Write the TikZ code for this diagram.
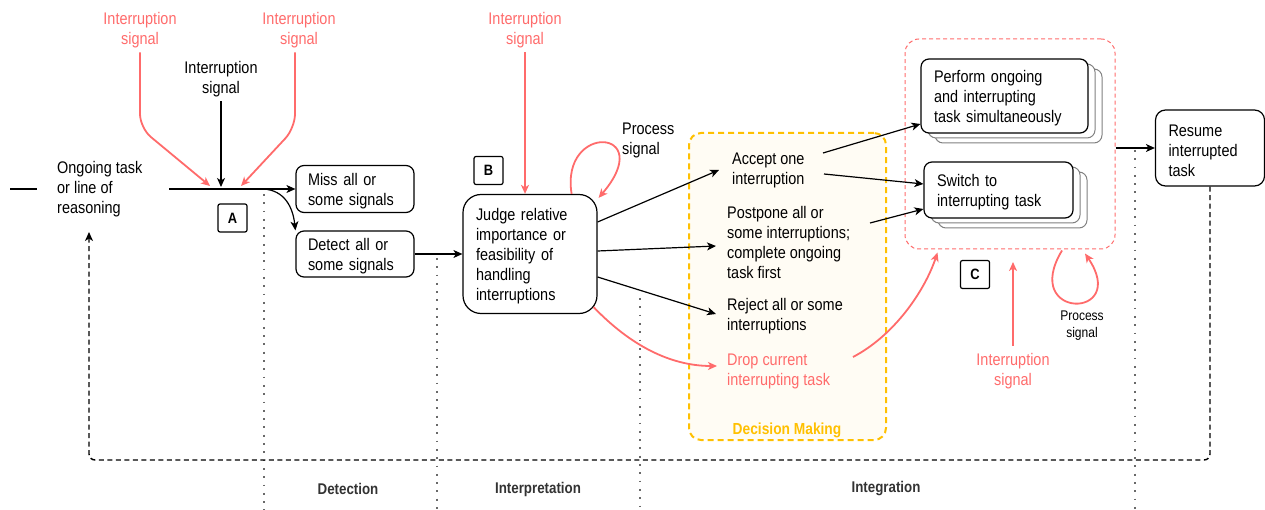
\documentclass[tikz,border=0pt]{standalone}
\usepackage{fontspec}
\setmainfont{Liberation Sans}[FakeStretch=0.86]
\usetikzlibrary{arrows.meta,calc,shadows}
\definecolor{sigred}{RGB}{255,107,107}
\definecolor{decgold}{RGB}{255,192,0}
\definecolor{deccream}{RGB}{255,252,244}
\definecolor{phase}{RGB}{51,51,51}
\definecolor{guidegray}{RGB}{105,105,105}
% extra room above the first line pushes multi-line labels a little lower
\newcommand\topstrut{\rule{0pt}{17pt}}
\newcommand\smallstrut{\rule{0pt}{14.5pt}}

\begin{document}
\begin{tikzpicture}[x=1pt,y=-1pt,
  every node/.style={font=\fontsize{16.8}{20}\selectfont},
  tip/.style={-{Stealth[length=9pt,width=8pt,inset=2.5pt]}},
  flow/.style={tip, line width=1.2pt, black},
  sig/.style={tip, line width=1.8pt, sigred},
  box/.style={draw, line width=1.2pt, rounded corners=8pt, fill=white, align=left, inner ysep=0pt},
  stacked/.style={box, double copy shadow={shadow xshift=7pt, shadow yshift=-5pt, draw=gray, fill=white, line width=1pt}},
  tag/.style={draw, line width=1.2pt, rounded corners=2pt, fill=white, minimum width=29pt, minimum height=28pt, inner sep=0pt, font=\fontsize{15}{18}\selectfont\bfseries},
  plain/.style={align=left, inner sep=0pt, anchor=west},
  siglabel/.style={align=center, inner sep=0pt, text=sigred},
  guide/.style={line width=1.8pt, guidegray, dash pattern=on 1.8pt off 6.5pt},
  phaselabel/.style={font=\fontsize{15.5}{18}\selectfont\bfseries, text=phase}
]
\useasboundingbox (0,0) rectangle (1265,510);

% phase separators
\draw[guide] (264,194) -- (264,510);
\draw[guide] (437,258) -- (437,510);
\draw[guide] (640,298) -- (640,510);
\draw[guide] (1135,150) -- (1135,510);

% decision making area
\node[draw=decgold, fill=deccream, dash pattern=on 6pt off 4pt, line width=2pt,
      rounded corners=12pt, minimum width=197pt, minimum height=307pt, inner sep=0pt]
      (decision) at (787.5,286.5) {};
\node[font=\fontsize{16}{20}\selectfont\bfseries, text=decgold] (decTitle) at (787,430) {Decision Making};

% integration group
\node[draw=sigred, dash pattern=on 4pt off 3pt, line width=1pt, rounded corners=14pt,
      minimum width=210pt, minimum height=210pt, inner sep=0pt] (group) at (1010,144) {};

% ongoing task
\coordinate (leadA) at (10,189);
\coordinate (leadB) at (37,189);
\draw[line width=1.2pt] (leadA) -- (leadB);
\node[plain] (ongoing) at (57,187) {\topstrut Ongoing task\\or line of\\reasoning};
\coordinate (lineStart) at (169,189);
\coordinate (fork) at (263,189);
\coordinate (back) at (89,232);

% detection
\node[box, text width=94pt, inner xsep=12pt, minimum height=47pt] (Miss) at (355,189) {\topstrut Miss all or\\some signals};
\node[box, text width=94pt, inner xsep=12pt, minimum height=46pt] (Detect) at (355,254) {\topstrut Detect all or\\some signals};
\node[tag] (tagA) at (232.5,218) {A};

\node[siglabel] (sigL) at (140,28) {\topstrut Interruption\\signal};
\node[siglabel] (sigR) at (299,28) {\topstrut Interruption\\signal};
\node[align=center, inner sep=0pt] (sigM) at (221,77) {\topstrut Interruption\\signal};
\coordinate (hitL) at (210,186);
\coordinate (hitR) at (241,186);

\draw[line width=1.2pt] (lineStart) -- (fork);
\draw[flow] (fork) -- (fork -| Miss.west);
\draw[flow] (fork) .. controls (285,190) and (293,208) .. (Detect.north west);
\draw[sig, rounded corners=14pt, shorten <=4pt] (sigL.south) -- (sigL.south |- 0,128) -- (hitL);
\draw[sig, rounded corners=14pt, shorten <=4pt] (sigR.south -| 295,0) -- (295,128) -- (hitR);
\draw[flow, shorten <=4pt, shorten >=2pt] (sigM.south) -- (sigM.south |- fork);

% interpretation
\node[box, rounded corners=18pt, text width=108pt, inner xsep=13pt, minimum height=119pt] (Judge) at (530,254)
  {\topstrut Judge relative\\importance or\\feasibility of\\handling\\interruptions};
\node[tag] (tagB) at (488.5,170.5) {B};
\draw[flow] (Detect.east) -- (Judge.west);

\node[siglabel] (sigB) at (525,28) {\topstrut Interruption\\signal};
\draw[sig, shorten <=4pt] (sigB.south) -- (sigB.south |- Judge.north);
\draw[sig] ($(Judge.north east)+(-26,0)$) .. controls (560,122) and (658,128) .. ($(Judge.north east)+(1,4)$);
\node[plain] (procB) at (622,138) {\topstrut Process\\signal};

% decision options
\node[plain] (Accept) at (732,168) {\topstrut Accept one\\interruption};
\node[plain] (Postpone) at (727,240.5) {\topstrut Postpone all or\\some interruptions;\\complete ongoing\\task first};
\node[plain] (Reject) at (727,314) {\topstrut Reject all or some\\interruptions};
\node[plain, text=sigred] (Drop) at (727,369) {\topstrut Drop current\\interrupting task};

\draw[flow] (Judge.east |- 0,222) -- ($(Accept.west)+(-13,2)$);
\draw[flow] (Judge.east |- 0,251) -- ($(Postpone.west)+(-11,5.5)$);
\draw[flow] (Judge.east |- 0,277) -- ($(Reject.west)+(-11,0)$);
\draw[sig] ($(Judge.south east)+(-4,-7)$) .. controls (630,345) and (670,366) .. ($(Drop.west)+(-10,-3)$);

% integration
\node[stacked, text width=141pt, inner xsep=13pt, minimum height=74pt] (Perform) at (1004.5,96)
  {\topstrut Perform ongoing\\and interrupting\\task simultaneously};
\node[stacked, text width=123pt, inner xsep=13pt, minimum height=56pt] (Switch) at (998.5,190)
  {\topstrut Switch to\\interrupting task};
\node[tag] (tagC) at (975,274.5) {C};

\draw[flow] ($(Accept.west)+(91,-15)$) -- (Perform.west |- 0,124);
\draw[flow] ($(Accept.west)+(92,6)$) -- (Switch.west |- 0,184);
\draw[flow] ($(Postpone.west)+(143,-17.5)$) -- (Switch.west |- 0,209);
\draw[sig] ($(Drop.west)+(126,-12)$) .. controls (895,335) and (925,290) .. ($(group.south west)+(33,3)$);

\node[siglabel] (sigC) at (1013,369) {\topstrut Interruption\\signal};
\draw[sig, shorten <=3pt] (sigC.north) -- (sigC.north |- 0,262);
\draw[sig] ($(group.south)+(52,1)$) .. controls (1020,320) and (1130,320) .. ($(group.south)+(75,4)$);
\node[align=center, inner sep=0pt, font=\fontsize{14}{17}\selectfont] (procC) at (1082,323) {\smallstrut Process\\signal};

% resume
\node[box, rounded corners=10pt, text width=83pt, inner xsep=13pt, minimum height=76pt] (Resume) at (1210,148)
  {\topstrut Resume\\interrupted\\task};
\draw[flow] (Resume.west -| group.east) -- (Resume.west);

% loop back to the ongoing task
\draw[tip, line width=1.4pt, dash pattern=on 5pt off 3.5pt, rounded corners=6pt]
  (Resume.south) -- (Resume.south |- 0,460) -- (back |- 0,460) -- (back);

% phases
\node[phaselabel] (phDet) at (348,489) {Detection};
\node[phaselabel] (phInt) at (538,489) {Interpretation};
\node[phaselabel] (phIntg) at (886,489) {Integration};
\end{tikzpicture}
\end{document}
